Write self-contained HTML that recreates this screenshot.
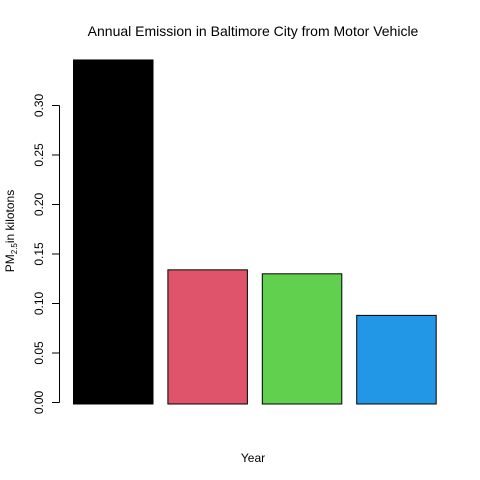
<!DOCTYPE html>
<html><head><meta charset="utf-8"><style>body{margin:0;background:#fff}svg{display:block;font-family:"Liberation Sans",sans-serif}</style></head><body>
<svg id="c" width="480" height="480">
<text x="253" y="36" font-size="14" text-anchor="middle">Annual Emission in Baltimore City from Motor Vehicle</text>
<text x="253" y="462" font-size="12" text-anchor="middle">Year</text>
<text transform="translate(14,231) rotate(-90)" font-size="12" text-anchor="middle">PM<tspan font-size="8" dy="3">2.5</tspan><tspan dy="-3">in kilotons</tspan></text>
<g id="axis"></g>
<g id="bars"></g>
</svg>
<script>
const categories=["1999","2002","2005","2008"];
const values=[0.346,0.134,0.130,0.088];
const colors=["#000000","#DF536B","#61D04F","#2297E6"];
const ticks=[0,0.05,0.10,0.15,0.20,0.25,0.30];
const tickLabels=["0.00","0.05","0.10","0.15","0.20","0.25","0.30"];
const NS="http://www.w3.org/2000/svg";
function y(v){return 402.5-v*990;}
function x(i){return 73+i*94.4;}
const ax=document.getElementById('axis'),bg=document.getElementById('bars');
function mk(t,a,p){const e=document.createElementNS(NS,t);for(const k in a)e.setAttribute(k,a[k]);p.appendChild(e);return e;}
const al=mk('line',{x1:59.5,x2:59.5,y1:y(ticks[0]),y2:y(ticks[ticks.length-1]),stroke:'#000'},ax);


ticks.forEach((t,i)=>{
 const l=mk('line',{x1:52,x2:59.5,y1:y(t),y2:y(t),stroke:'#000'},ax);
 
 
 const tx=mk('text',{transform:`translate(43,${y(t)}) rotate(-90)`,'font-size':12,'text-anchor':'middle'},ax);
 tx.textContent=tickLabels[i];
 
 
});
values.forEach((v,i)=>{
 const r=mk('rect',{x:x(i)+0.5,y:y(v),width:79.5,height:y(0)-y(v)+1.5,fill:colors[i],stroke:'#000'},bg);
 
 
});
</script>
</body></html>
